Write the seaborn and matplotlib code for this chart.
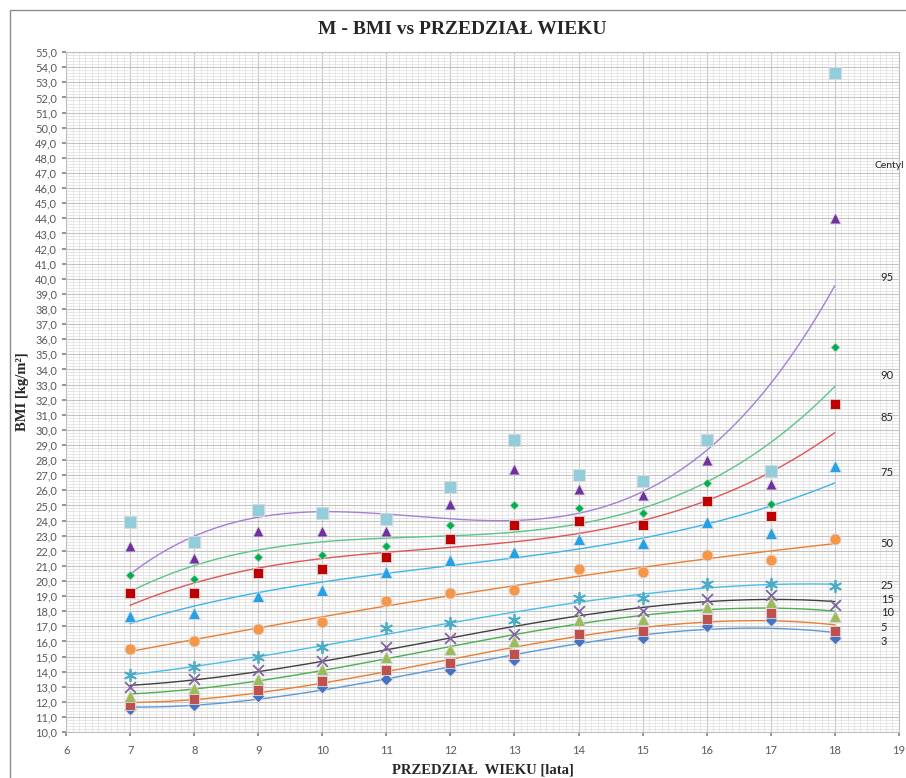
import numpy as np
import pandas as pd
import matplotlib
import matplotlib.pyplot as plt
from matplotlib.patches import Rectangle
from matplotlib.ticker import MultipleLocator, FuncFormatter
import seaborn as sns

matplotlib.use('Agg')

# --- data ---
ages = [7, 8, 9, 10, 11, 12, 13, 14, 15, 16, 17, 18]

c3 = [11.5, 11.8, 12.4, 13.0, 13.5, 14.1, 14.8, 16.0, 16.2, 17.0, 17.4, 16.2]
c5 = [11.8, 12.2, 12.8, 13.4, 14.1, 14.6, 15.2, 16.5, 16.7, 17.5, 17.9, 16.7]
c10 = [12.4, 12.9, 13.5, 14.2, 15.0, 15.5, 16.0, 17.4, 17.5, 18.3, 18.6, 17.7]
c15 = [13.0, 13.5, 14.1, 14.7, 15.6, 16.2, 16.5, 18.0, 18.0, 18.8, 19.1, 18.4]
c25 = [13.8, 14.3, 15.0, 15.6, 16.9, 17.2, 17.4, 18.9, 18.9, 19.8, 19.8, 19.7]
c50 = [15.5, 16.0, 16.8, 17.3, 18.7, 19.2, 19.4, 20.8, 20.6, 21.7, 21.4, 22.8]
c75 = [17.7, 17.9, 19.0, 19.4, 20.6, 21.4, 21.9, 22.8, 22.5, 23.9, 23.2, 27.6]
c85 = [19.2, 19.2, 20.5, 20.8, 21.6, 22.8, 23.7, 24.0, 23.7, 25.3, 24.3, 31.7]
c90 = [20.4, 20.1, 21.6, 21.7, 22.3, 23.7, 25.0, 24.8, 24.5, 26.5, 25.1, 35.5]
c95 = [22.3, 21.5, 23.3, 23.3, 23.3, 25.1, 27.4, 26.1, 25.7, 28.0, 26.4, 44.0]
c97 = [23.9, 22.6, 24.7, 24.5, 24.1, 26.2, 29.3, 27.0, 26.6, 29.3, 27.3, 53.6]

series_names = ['3', '5', '10', '15', '25', '50', '75', '85', '90', '95', '97']
series_values = [c3, c5, c10, c15, c25, c50, c75, c85, c90, c95, c97]

# percentile labels shown at the right edge
centile_labels = ['95', '90', '85', '75', '50', '25', '15', '10', '5', '3']

# --- styles ---
marker_style = {
    '3':  dict(marker='D', color='#4472c4', s=40),
    '5':  dict(marker='s', color='#c0504d', s=62),
    '10': dict(marker='^', color='#9bbb59', s=72),
    '15': dict(marker='x', color='#8064a2', s=60),
    '25': dict(marker=(6, 2, 0), color='#4bacc6', s=70),
    '50': dict(marker='o', color='#f79646', s=62),
    '75': dict(marker='^', color='#21a1e8', s=72),
    '85': dict(marker='s', color='#c00000', s=58),
    '90': dict(marker='D', color='#00b050', s=22),
    '95': dict(marker='^', color='#7030a0', s=62),
    '97': dict(marker='s', color='#92cddc', s=68),
}
trend_color = {
    '3': '#5b9bd5', '5': '#ed7d31', '10': '#4caf50', '15': '#404040',
    '25': '#4bbde8', '50': '#ed7d31', '75': '#3cb6ea', '85': '#e05555',
    '90': '#5cc48a', '95': '#a57fd6',
}
label_y = [40.1, 33.6, 30.8, 27.2, 22.5, 19.7, 18.8, 17.9, 16.95, 16.0]

sns.set_theme(style='white')
plt.rcParams['font.family'] = ['Lato', 'DejaVu Sans']

fig = plt.figure(figsize=(9.06, 7.78), dpi=100)
ax = fig.add_axes([0.073, 0.059, 0.919, 0.874])

df = pd.DataFrame({'age': ages * len(series_names),
                   'bmi': sum(series_values, []),
                   'centyl': np.repeat(series_names, len(ages))})

# cubic trendlines (Excel-style polynomial, order 3)
xs = np.linspace(min(ages), max(ages), 200)
for name, vals in zip(series_names, series_values):
    if name not in trend_color:
        continue
    coef = np.polyfit(ages, vals, 3)
    sns.lineplot(x=xs, y=np.polyval(coef, xs), color=trend_color[name],
                 linewidth=1.0, ax=ax, zorder=3)

for name in series_names:
    sub = df[df['centyl'] == name]
    st = marker_style[name]
    if st['marker'] in ('x', (6, 2, 0)):
        ax.scatter(sub['age'], sub['bmi'], marker=st['marker'], color=st['color'],
                   s=st['s'], linewidths=1.3, zorder=4)
    else:
        sns.scatterplot(data=sub, x='age', y='bmi', marker=st['marker'],
                        color=st['color'], s=st['s'], edgecolor='#d9d9d9',
                        linewidth=0.6, ax=ax, zorder=4, legend=False)

# grid like Excel graph paper
ax.set_xlim(6, 19)
ax.set_ylim(10, 55)
ax.xaxis.set_major_locator(MultipleLocator(1))
ax.xaxis.set_minor_locator(MultipleLocator(0.1))
ax.yaxis.set_major_locator(MultipleLocator(1))
ax.yaxis.set_minor_locator(MultipleLocator(0.2))
ax.grid(which='major', color='#c4c4c4', linewidth=0.8)
ax.grid(which='minor', color='#e3e3e3', linewidth=0.6)
ax.set_axisbelow(True)
ax.yaxis.set_major_formatter(FuncFormatter(lambda v, p: f'{v:.1f}'.replace('.', ',')))
ax.tick_params(axis='both', which='major', labelsize=8, labelcolor='#595959',
               length=3, color='#888888', left=True, bottom=True)
ax.tick_params(axis='x', pad=6)
for sp in ax.spines.values():
    sp.set_color('#bfbfbf')
    sp.set_linewidth(0.8)

ax.set_xlabel('PRZEDZIAŁ  WIEKU [lata]', fontsize=10.5, fontweight='bold',
              family='Liberation Serif', labelpad=6)
ax.set_ylabel('BMI [kg/m²]', fontsize=10.5, fontweight='bold',
              family='Liberation Serif', labelpad=4)
fig.text(0.51, 0.962, 'M - BMI vs PRZEDZIAŁ WIEKU', ha='center', va='center',
         fontsize=14, fontweight='bold', family='Liberation Serif')

ax.text(18.62, 47.5, 'Centyl', fontsize=7.5, color='#262626', va='center',
        clip_on=False)
for lab, yv in zip(centile_labels, label_y):
    ax.text(18.72, yv, lab, fontsize=8, color='#262626', va='center',
            clip_on=False)

fig.patches.append(Rectangle((0.011, -0.01), 1.2, 0.997, transform=fig.transFigure,
                             fill=False, edgecolor='#8c8c8c', linewidth=1.0))

fig.savefig('out.png', dpi=100)
